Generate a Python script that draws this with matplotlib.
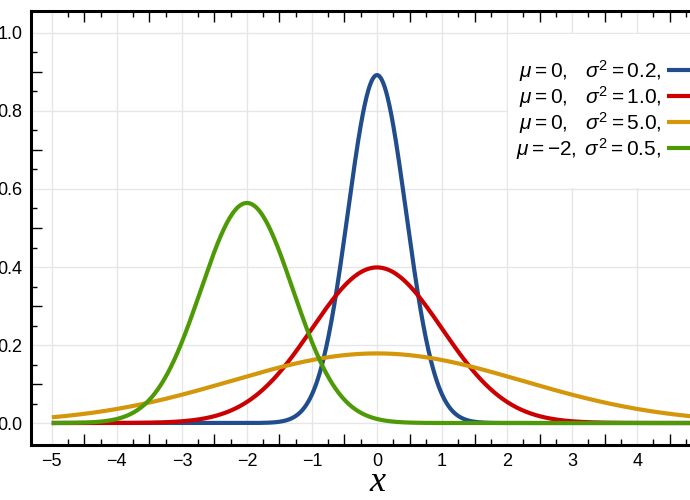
import numpy as np
import matplotlib
matplotlib.use('Agg')
import matplotlib.pyplot as plt

# parameters of the four curves
mus = [0, 0, 0, -2]
sigma2s = [0.2, 1.0, 5.0, 0.5]
labels = [r'$\mu=0,\quad\!\sigma^2=0.2,$',
          r'$\mu=0,\quad\!\sigma^2=1.0,$',
          r'$\mu=0,\quad\!\sigma^2=5.0,$',
          r'$\mu={-2},\;\sigma^2=0.5,$']
colors = ['#214d8c', '#cc0000', '#d4960a', '#4e9a06']
xticks = [-5, -4, -3, -2, -1, 0, 1, 2, 3, 4, 5]
yticks = [0.0, 0.2, 0.4, 0.6, 0.8, 1.0]

plt.rcParams['font.family'] = ['Liberation Sans', 'DejaVu Sans']
plt.rcParams['mathtext.fontset'] = 'custom'
plt.rcParams['mathtext.rm'] = 'Liberation Sans'
plt.rcParams['mathtext.it'] = 'Liberation Sans:italic'

fig = plt.figure(figsize=(6.9, 5), dpi=100)
ax = fig.add_axes([31 / 690, 55 / 500, 692 / 690, 434 / 500])

x = np.linspace(-5, 5, 1001)
for mu, s2, c, lab in zip(mus, sigma2s, colors, labels):
    y = np.exp(-(x - mu) ** 2 / (2 * s2)) / np.sqrt(2 * np.pi * s2)
    ax.plot(x, y, color=c, lw=3, label=lab, solid_capstyle='butt')

ax.set_xlim(-5.32, 5.32)
ax.set_ylim(-0.0564, 1.0564)

ax.set_xticks(xticks)
ax.set_xticklabels([str(t).replace('-', '\u2212') for t in xticks])
ax.set_yticks(yticks)
ax.set_yticklabels(['%.1f' % t for t in yticks])
ax.set_xticks([t + d for t in np.arange(-5, 5) for d in (0.25, 0.75)], minor=True)
ax.set_yticks([t for t in np.arange(0.05, 1.05, 0.1)], minor=True)
ax.tick_params(which='major', length=0, labelsize=13, pad=6)
ax.tick_params(which='minor', direction='in', length=4, width=1,
               top=True, right=True)
ax.grid(True, which='major', color='#e6e6e6', lw=1)
ax.set_axisbelow(True)
for s in ax.spines.values():
    s.set_linewidth(2.2)

# long ticks at the halves / odd tenths
for loc in ('bottom', 'top'):
    sec = ax.secondary_xaxis(loc)
    sec.set_xticks(np.arange(-4.5, 5, 1.0))
    sec.tick_params(direction='in', length=8, width=1, labelbottom=False,
                    labeltop=False)
    sec.spines[loc].set_visible(False)
for loc in ('left', 'right'):
    sec = ax.secondary_yaxis(loc)
    sec.set_yticks(np.arange(0.1, 1.0, 0.2))
    sec.tick_params(direction='in', length=8, width=1, labelleft=False,
                    labelright=False)
    sec.spines[loc].set_visible(False)

ax.set_xlabel('x', fontsize=26, family='Liberation Serif', fontstyle='italic',
              labelpad=-3)

# white background behind the legend
bg = plt.Rectangle((508 / 690, 1 - 188 / 500), 200 / 690, 154 / 500,
                   transform=fig.transFigure, fc='white', ec='none',
                   zorder=1, clip_on=False)
ax.add_patch(bg)

leg = ax.legend(loc='upper left', bbox_to_anchor=(516 / 690, 1 - 58 / 500),
                bbox_transform=fig.transFigure, markerfirst=False,
                fontsize=15, handlelength=3, handletextpad=0.3,
                labelspacing=0.0, borderpad=0, borderaxespad=0,
                frameon=False)

fig.savefig('out.png', dpi=100)
